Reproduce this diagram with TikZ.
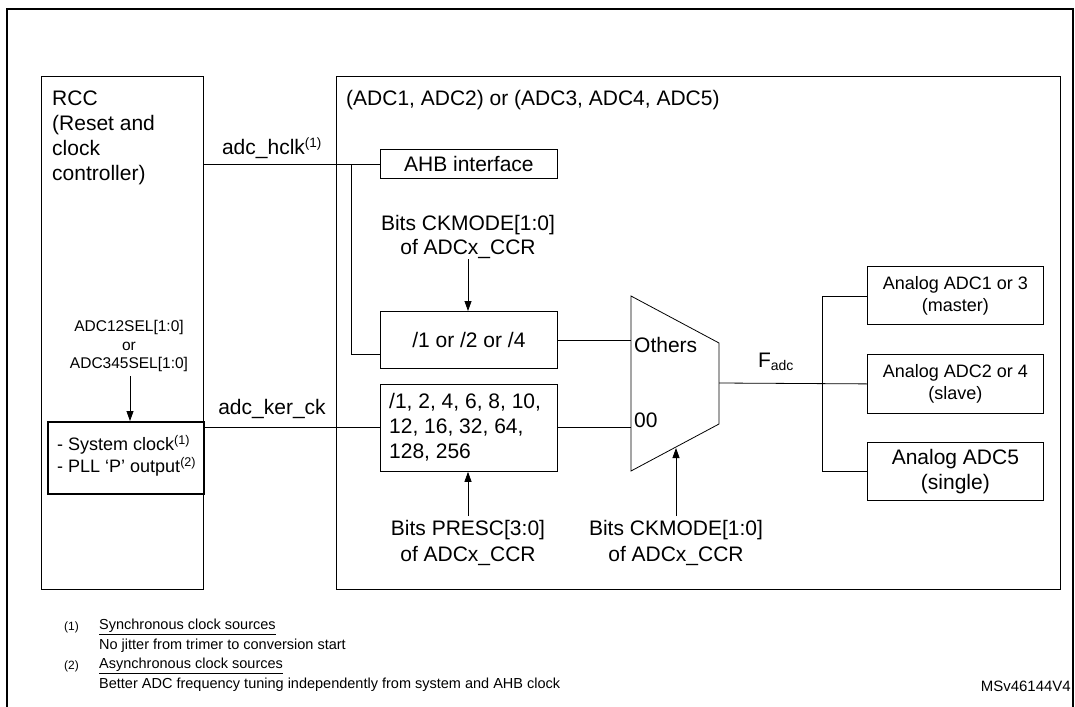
\documentclass[tikz,border=0pt]{standalone}
\usepackage{fontspec}
\setmainfont{Liberation Sans}
\usetikzlibrary{arrows.meta}
\protected\def\fsz#1{\fontsize{#1}{#1}\selectfont}
\protected\def\fsb#1#2{\fontsize{#1}{#2}\selectfont}
\begin{document}
\begin{tikzpicture}[x=1pt,y=-1pt,
  box/.style={draw,line width=1.2pt,inner sep=0},
  blk/.style={draw,line width=0.8pt,inner sep=0},
  lbl/.style={inner sep=0,font=\fsz{21}},
  ln/.style={line width=0.8pt},
  arr/.style={line width=0.8pt,-{Triangle[length=10pt,width=7pt]}},
  foot/.style={inner sep=0,anchor=west,font=\fsz{14.5}}]
\useasboundingbox (0,0) rectangle (1075,706);
\draw[line width=1.6pt] (7,720) -- (7,9) -- (1073,9) -- (1073,720);
% big boxes
\node[box,minimum width=162pt,minimum height=513pt,anchor=north west] (rcc) at (41,76) {};
\node[box,minimum width=724pt,minimum height=513pt,anchor=north west] (adc) at (336,76) {};
\node[inner sep=0,anchor=west,align=left,font=\fsb{21}{25}] (rcct) at (52,137.5) {RCC\\(Reset and\\clock\\controller)};
\node[lbl,anchor=west] (adct) at (346,100) {(ADC1, ADC2) or (ADC3, ADC4, ADC5)};
% RCC inner
\node[box,line width=1.6pt,minimum width=156pt,minimum height=72pt,anchor=north west] (src) at (47,421) {};
\node[inner sep=0,anchor=west,align=left,font=\fsb{18}{22}] (srct) at (57,456) {- System clock\textsuperscript{(1)}\\- PLL ‘P’ output\textsuperscript{(2)}};
\node[inner sep=0,align=center,font=\fsb{15.5}{18.5}] (sel) at (129,346) {ADC12SEL[1:0]\\or\\ADC345SEL[1:0]};
\coordinate (selb) at (130,376);
\draw[arr] (selb) -- (src.north -| selb);
% ADC internal boxes
\node[blk,minimum width=177pt,minimum height=29pt,anchor=north west,font=\fsz{21}] (ahb) at (380,149) {AHB interface};
\node[blk,minimum width=177pt,minimum height=57pt,anchor=north west,font=\fsz{21}] (d1) at (380,311) {/1 or /2 or /4};
\node[blk,minimum width=177pt,minimum height=87pt,anchor=north west] (d2) at (380,384) {};
\node[inner sep=0,anchor=west,align=left,font=\fsb{21}{25}] (d2t) at (389,427) {/1, 2, 4, 6, 8, 10,\\12, 16, 32, 64,\\128, 256};
% connections
\draw[ln] (rcc.east |- ahb.west) -- (ahb.west);
\node[lbl] (hclk) at (272,148) {adc\_hclk\textsuperscript{\fsz{13.5}(1)}};
\coordinate (v1) at (351,164);
\draw[ln] (v1) -- (351,354) -- (d1.west |- 0,354);
\draw[ln] (203,427) -- (d2.west |- 0,427);
\node[lbl] (ker) at (272,409) {adc\_ker\_ck};
% top bits
\node[inner sep=0,align=center,font=\fsb{21}{24}] (bt) at (468,237) {Bits CKMODE[1:0]\\of ADCx\_CCR};
\draw[arr] (468,259) -- (d1.north -| 468,0);
\node[inner sep=0,align=center,font=\fsb{21}{26}] (bp) at (468,543) {Bits PRESC[3:0]\\of ADCx\_CCR};
\draw[arr] (468,516) -- (d2.south -| 468,0);
% mux
\coordinate (m1) at (631,296); \coordinate (m2) at (719,343);
\coordinate (m3) at (719,424); \coordinate (m4) at (631,471);
\draw[ln] (m1) -- (m2) -- (m3) -- (m4) -- cycle;
\node[lbl,anchor=west] (oth) at (634,345) {Others};
\node[lbl,anchor=west] (z0) at (634,420) {00};
\draw[ln] (d1.east |- 0,340) -- (631,340);
\draw[ln] (d2.east |- 0,427) -- (631,427);
\node[inner sep=0,align=center,font=\fsb{21}{26}] (bm) at (676,543) {Bits CKMODE[1:0]\\of ADCx\_CCR};
\draw[arr] (676,516) -- (676,448);
% analog
\node[blk,minimum width=176pt,minimum height=58pt,anchor=north west,align=center,font=\fsb{18}{22}] (a1) at (867,266) {Analog ADC1 or 3\\(master)};
\node[blk,minimum width=176pt,minimum height=59pt,anchor=north west,align=center,font=\fsb{18}{22}] (a2) at (867,354) {Analog ADC2 or 4\\(slave)};
\node[blk,minimum width=176pt,minimum height=58pt,anchor=north west,align=center,font=\fsb{21}{25}] (a3) at (867,442) {Analog ADC5\\(single)};
\draw[ln] (719,383) -- (a2.west);
\draw[ln] (a1.west |- 0,296) -- (822,296) -- (822,471) -- (a3.west |- 0,471);
\node[lbl] (fadc) at (776,362) {F\textsubscript{\fsz{14}adc}};
% footnotes
\node[foot,font=\fsz{12}] (f1n) at (64,627) {(1)};
\node[foot] (f1a) at (99,627) {\underline{Synchronous clock sources}};
\node[foot] (f1b) at (99,646) {No jitter from trimer to conversion start};
\node[foot,font=\fsz{12}] (f2n) at (64,666) {(2)};
\node[foot] (f2a) at (99,666) {\underline{Asynchronous clock sources}};
\node[foot] (f2b) at (99,685) {Better ADC frequency tuning independently from system and AHB clock};
\node[inner sep=0,anchor=east,font=\fsz{15}] (ms) at (1071,686) {MSv46144V4};
\end{tikzpicture}
\end{document}
